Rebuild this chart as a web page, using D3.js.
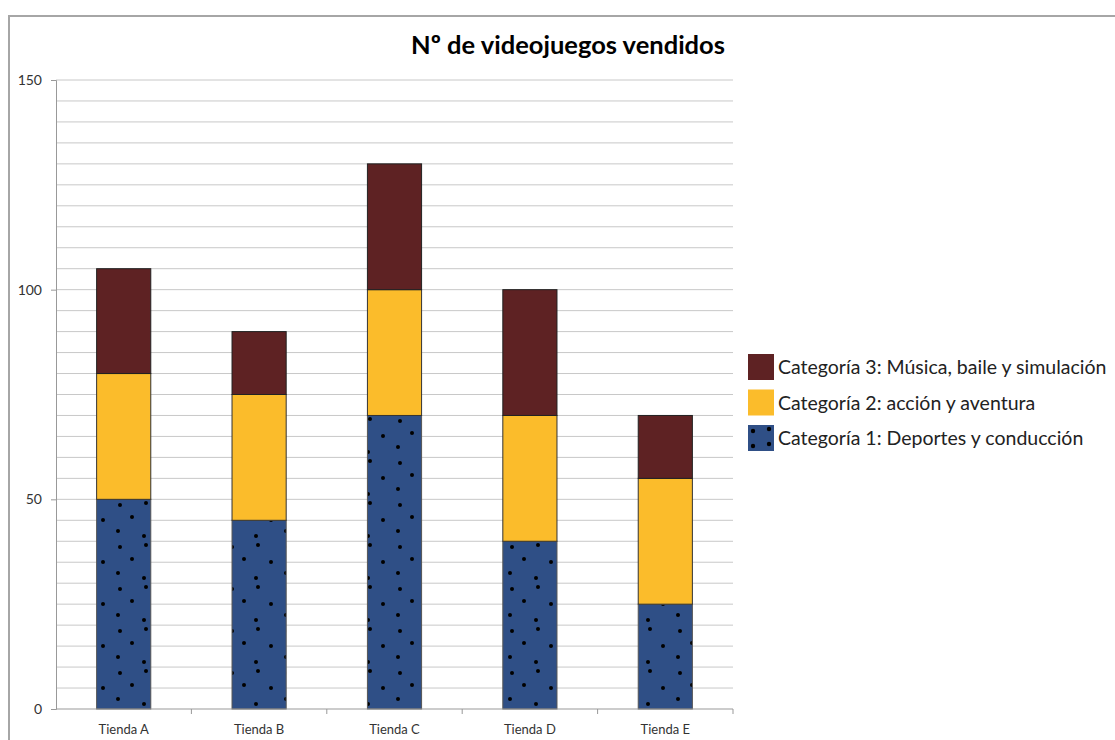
<!DOCTYPE html>
<html>
<head>
<meta charset="utf-8">
<script src="https://cdn.jsdelivr.net/npm/d3@7"></script>
<style>
  body { margin: 0; background: #fff; }
  svg text { font-family: Lato, "Open Sans", sans-serif; }
</style>
</head>
<body>
<div class="chart"></div>
<script>
// data
var tiendas = ['Tienda A', 'Tienda B', 'Tienda C', 'Tienda D', 'Tienda E'];
var cat1 = [50, 45, 70, 40, 25]; // Deportes y conducción
var cat2 = [30, 30, 30, 30, 30]; // acción y aventura
var cat3 = [25, 15, 30, 30, 15]; // Música, baile y simulación
var seriesNames = [
    'Categoría 1: Deportes y conducción',
    'Categoría 2: acción y aventura',
    'Categoría 3: Música, baile y simulación'
];
var yTicks = [0, 50, 100, 150];

var W = 1115, H = 740;
var margin = { top: 80, right: 382, bottom: 31, left: 56 };
var width  = W - margin.left - margin.right;
var height = H - margin.top - margin.bottom;

var svg = d3.select('.chart').append('svg')
    .attr('width', W)
    .attr('height', H);

// dotted fill for category 1 (bars and legend key)
var defs = svg.append('defs');
function dotPattern(id, w, h, pts, r) {
    var pat = defs.append('pattern')
        .attr('id', id)
        .attr('patternUnits', 'userSpaceOnUse')
        .attr('width', w).attr('height', h);
    pat.append('rect').attr('width', w).attr('height', h).attr('fill', '#2f4f86');
    pts.forEach((p) => {
        pat.append('circle').attr('cx', p[0]).attr('cy', p[1]).attr('r', r).attr('fill', '#000');
    });
}
dotPattern('dots', 56, 42,
    [[8, 5], [34, 3], [20, 17], [47, 20], [6, 31], [32, 36]], 2);
dotPattern('dotsKey', 26, 26, [[5, 6], [21, 4], [5, 21], [21, 19]], 2.2);

// outer frame
svg.append('rect')
    .attr('x', 9).attr('y', 16)
    .attr('width', W + 20).attr('height', H + 20)
    .attr('fill', 'none')
    .attr('stroke', '#a6a6a6')
    .attr('stroke-width', 2);

var g = svg.append('g')
    .attr('transform', `translate(${margin.left}, ${margin.top})`);

var x = d3.scaleBand()
    .domain(tiendas)
    .range([0, width])
    .paddingInner(0.6)
    .paddingOuter(0.3);
var y = d3.scaleLinear()
    .domain([0, 150])
    .range([height, 0]);

// gridlines every 5
g.append('g')
    .selectAll('line')
    .data(d3.range(5, 155, 5))
    .enter().append('line')
    .attr('x1', 0).attr('x2', width)
    .attr('y1', (d) => { return y(d); })
    .attr('y2', (d) => { return y(d); })
    .attr('stroke', '#c8c8c8')
    .attr('stroke-width', 1);

// stacked bars
var rows = tiendas.map((t, i) => {
    return { tienda: t, c1: cat1[i], c2: cat2[i], c3: cat3[i] };
});
var stack = d3.stack().keys(['c1', 'c2', 'c3'])(rows);
var fills = ['url(#dots)', '#fbbc2b', '#5e2223'];
var keyFills = ['url(#dotsKey)', '#fbbc2b', '#5e2223'];
var strokes = ['#555', '#333', '#222'];

stack.forEach((layer, k) => {
    g.append('g')
        .selectAll('rect')
        .data(layer)
        .enter().append('rect')
        .attr('x', (d) => { return x(d.data.tienda); })
        .attr('width', x.bandwidth())
        .attr('y', (d) => { return y(d[1]); })
        .attr('height', (d) => { return y(d[0]) - y(d[1]); })
        .attr('fill', fills[k])
        .attr('stroke', strokes[k])
        .attr('stroke-width', 1);
});

// y axis
var yAxis = g.append('g')
    .call(d3.axisLeft(y).tickValues(yTicks).tickSize(5).tickPadding(9).tickFormat(d3.format('d')));
yAxis.select('.domain').attr('stroke', '#999');
yAxis.selectAll('.tick line').attr('stroke', '#999');
yAxis.selectAll('text').attr('fill', '#333').style('font-size', '14px');

// x axis, ticks on the band edges
var xAxis = g.append('g')
    .attr('transform', `translate(0, ${height})`);
xAxis.append('line')
    .attr('x1', 0).attr('x2', width)
    .attr('stroke', '#999');
xAxis.selectAll('.edge')
    .data(d3.range(1, tiendas.length + 1))
    .enter().append('line')
    .attr('x1', (d) => { return d * width / tiendas.length; })
    .attr('x2', (d) => { return d * width / tiendas.length; })
    .attr('y1', 0).attr('y2', 5)
    .attr('stroke', '#999');
xAxis.selectAll('text')
    .data(tiendas)
    .enter().append('text')
    .attr('x', (d) => { return x(d) + x.bandwidth() / 2; })
    .attr('y', 25)
    .attr('text-anchor', 'middle')
    .attr('fill', '#333')
    .style('font-size', '13px')
    .text((d) => { return d; });

// title
svg.append('text')
    .attr('x', 568).attr('y', 54)
    .attr('text-anchor', 'middle')
    .style('font-size', '25.5px')
    .style('font-weight', 'bold')
    .attr('fill', '#000')
    .text('Nº de videojuegos vendidos');

// legend, top entry is category 3
var legend = svg.append('g').attr('transform', 'translate(748, 354)');
var order = [2, 1, 0];
order.forEach((k, i) => {
    var row = legend.append('g').attr('transform', `translate(0, ${i * 35.5})`);
    row.append('rect')
        .attr('width', 26).attr('height', 26)
        .attr('fill', keyFills[k]);
    row.append('text')
        .attr('x', 30).attr('y', 20)
        .attr('fill', '#222')
        .style('font-size', '19.5px')
        .text(seriesNames[k]);
});
</script>
</body>
</html>
